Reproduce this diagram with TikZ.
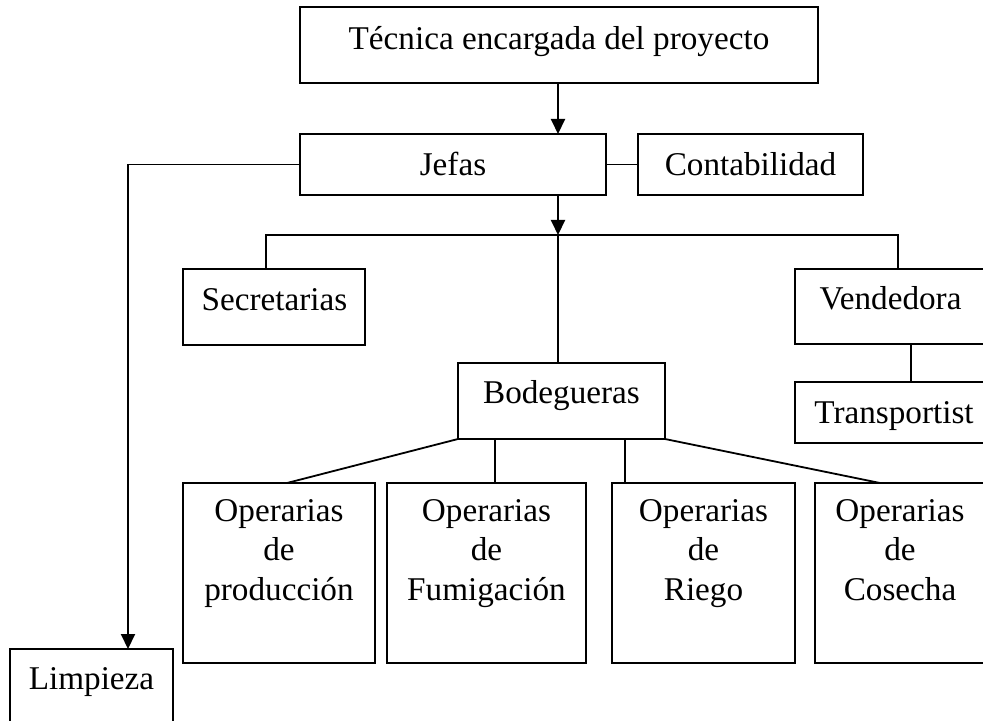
\documentclass[tikz,border=0pt]{standalone}
\usepackage{fontspec}
\setmainfont{Liberation Serif}
\usetikzlibrary{arrows.meta}
\begin{document}
\begin{tikzpicture}[x=0.5pt,y=-0.5pt,
  bx/.style 2 args={draw, line width=1pt, minimum width=#1, minimum height=#2, anchor=north west, inner sep=0pt, outer sep=0pt},
  tx/.style={font=\fontsize{16.6}{19.6}\selectfont, inner sep=0pt, anchor=base, align=center},
  ln/.style={line width=0.9pt},
  arr/.style={line width=1pt, -{Triangle[width=7pt,length=7.5pt]}}]
\useasboundingbox (0,0) rectangle (983,721);
\clip (0,0) rectangle (983,721);
% boxes
\node[bx={259pt}{38pt}] (tec) at (300,7) {};
\node[bx={153pt}{30.5pt}] (jef) at (300,134) {};
\node[bx={112.5pt}{30.5pt}] (con) at (638,134) {};
\node[bx={91pt}{38pt}] (sec) at (183,269) {};
\node[bx={97.5pt}{37.5pt}] (ven) at (795,269) {};
\node[bx={97.5pt}{30.5pt}] (tra) at (795,382) {};
\node[bx={103.5pt}{38pt}] (bod) at (458,363) {};
\node[bx={96pt}{90pt}] (op1) at (183,483) {};
\node[bx={99.5pt}{90pt}] (op2) at (387,483) {};
\node[bx={91.5pt}{90pt}] (op3) at (612,483) {};
\node[bx={87.5pt}{90pt}] (op4) at (815,483) {};
\node[bx={81.5pt}{55.5pt}] (lim) at (10,649) {};
% texts
\node[tx] (tecT) at (559,50) {Técnica encargada del proyecto};
\node[tx] (jefT) at (453,176) {Jefas};
\node[tx] (conT) at (750.5,176) {Contabilidad};
\node[tx] (secT) at (274.5,310) {Secretarias};
\node[tx] (venT) at (890.5,309) {Vendedora};
\node[tx] (traT) at (894,423) {Transportist};
\node[tx] (bodT) at (561.5,403) {Bodegueras};
\node[tx] (op1T) at (279,600) {Operarias\\de\\producción};
\node[tx] (op2T) at (486.5,600) {Operarias\\de\\Fumigación};
\node[tx] (op3T) at (703.5,600) {Operarias\\de\\Riego};
\node[tx] (op4T) at (900,600) {Operarias\\de\\Cosecha};
\node[tx] (limT) at (91.5,689) {Limpieza};
% connectors
\coordinate (ax) at (558,0);
\coordinate (bus) at (558,235);
\coordinate (busL) at (266,235);
\coordinate (busR) at (898,235);
\coordinate (lt) at (128,0);
\coordinate (vt) at (911,0);
\coordinate (o1) at (287,0);
\coordinate (o2) at (495,0);
\coordinate (o3) at (625,0);
\coordinate (o4) at (880,0);
\draw[arr] (ax |- tec.south) -- (ax |- jef.north);
\draw[arr] (ax |- jef.south) -- (bus);
\draw[ln] (sec.north -| busL) -- (busL) -- (busR) -- (busR |- ven.north);
\draw[ln] (bus) -- (bus |- bod.north);
\draw[ln] (jef.east) -- (con.west);
\draw[ln] (jef.west) -- (jef.west -| lt);
\draw[arr] (jef.west -| lt) -- (lt |- lim.north);
\draw[ln] (vt |- ven.south) -- (vt |- tra.north);
\draw[ln] (bod.south west) -- (o1 |- op1.north);
\draw[ln] (o2 |- bod.south) -- (o2 |- op2.north);
\draw[ln] (o3 |- bod.south) -- (o3 |- op3.north);
\draw[ln] (bod.south east) -- (o4 |- op4.north);
\end{tikzpicture}
\end{document}
